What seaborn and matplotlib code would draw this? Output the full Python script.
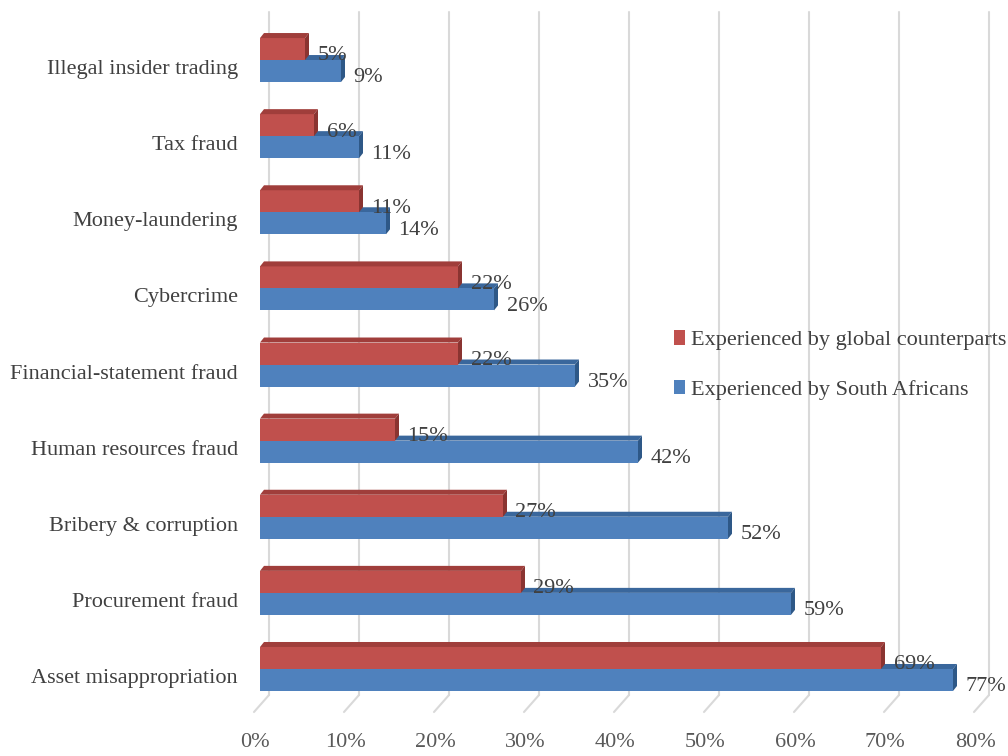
import numpy as np
import pandas as pd
import matplotlib
matplotlib.use("Agg")
import matplotlib.pyplot as plt
from matplotlib.patches import Polygon, Patch
from matplotlib.lines import Line2D
from matplotlib.transforms import ScaledTranslation
import seaborn as sns

# ---- data ----
categories = [
    "Illegal insider trading",
    "Tax fraud",
    "Money-laundering",
    "Cybercrime",
    "Financial-statement fraud",
    "Human resources fraud",
    "Bribery & corruption",
    "Procurement fraud",
    "Asset misappropriation",
]
global_pct = [5, 6, 11, 22, 22, 15, 27, 29, 69]
sa_pct = [9, 11, 14, 26, 35, 42, 52, 59, 77]
series_names = ["Experienced by global counterparts", "Experienced by South Africans"]
x_ticks = [0, 10, 20, 30, 40, 50, 60, 70, 80]
x_tick_labels = [f"{t}%" for t in x_ticks]

df = pd.DataFrame({
    "category": categories * 2,
    "value": global_pct + sa_pct,
    "series": [series_names[0]] * len(categories) + [series_names[1]] * len(categories),
})

# ---- style ----
sns.set_style("white")
plt.rcParams["font.family"] = ["Liberation Serif", "DejaVu Serif"]
TXT = "#404040"
FS = 16

front = {series_names[0]: "#C0504D", series_names[1]: "#4F81BD"}
top_face = {series_names[0]: "#A03E3B", series_names[1]: "#3A679C"}
side_face = {series_names[0]: "#8A3431", series_names[1]: "#2E5887"}

W, H, DPI = 1008, 756, 100
fig = plt.figure(figsize=(W / DPI, H / DPI), dpi=DPI)
# plot area spans px x 260..980, y 12..712 (from top)
ax = fig.add_axes([260 / W, 1 - 712 / H, 720 / W, 700 / H])

sns.barplot(
    data=df, y="category", x="value", hue="series", orient="h",
    order=categories, hue_order=series_names, palette=front,
    width=0.578, gap=0, saturation=1, legend=False, ax=ax, zorder=3,
    linewidth=0, edgecolor="none",
)

ax.set_xlim(0, 80)
ax.set_ylim(8.565, -0.631)
ax.set_xlabel("")
ax.set_ylabel("")
for s in ax.spines.values():
    s.set_visible(False)
ax.grid(False)

# ---- back-wall gridlines and floor edges ----
def px(xd, yfrac):
    xd_disp = ax.transData.transform((xd, 0))[0]
    y_disp = ax.transAxes.transform((0, yfrac))[1]
    return xd_disp, y_disp

floor_frac = 17 / 700
back_dx, front_dx = 9, -6
for t in x_ticks:
    xb, yb = px(t, floor_frac)
    _, ytop = px(t, 1.0)
    _, y0 = px(t, 0.0)
    fig.add_artist(Line2D([xb + back_dx, xb + back_dx], [yb, ytop], transform=None,
                          color="#D9D9D9", lw=1.5, zorder=0.5))
    fig.add_artist(Line2D([xb + back_dx, xb + front_dx], [yb, y0], transform=None,
                          color="#D9D9D9", lw=1.5, zorder=0.5))

# ---- depth faces for each bar ----
dx, dy = 4, 5
bars = list(ax.patches)
n = len(categories)
for i, bar in enumerate(bars[: 2 * n]):
    name = series_names[0] if i < n else series_names[1]
    x0, y0 = bar.get_x(), bar.get_y()
    x1, y1 = x0 + bar.get_width(), y0 + bar.get_height()
    (ax0, atop), (ax1, abot) = ax.transData.transform([(x0, y0), (x1, y1)])
    z = 1.2 if i < n else 1.0
    fig.add_artist(Polygon(
        [(ax0, atop), (ax1, atop), (ax1 + dx, atop + dy), (ax0 + dx, atop + dy)],
        closed=True, transform=None, facecolor=top_face[name], edgecolor="none", zorder=z))
    fig.add_artist(Polygon(
        [(ax1, atop), (ax1, abot), (ax1 + dx, abot + dy), (ax1 + dx, atop + dy)],
        closed=True, transform=None, facecolor=side_face[name], edgecolor="none", zorder=z))

# bar fronts drawn above the depth faces
ax.set_zorder(1)
ax.patch.set_alpha(0)

# value labels
all_vals = global_pct + sa_pct
for i, bar in enumerate(bars[: 2 * n]):
    xe = bar.get_x() + bar.get_width()
    yc = bar.get_y() + bar.get_height() / 2
    ax.annotate(f"{all_vals[i]}%", (xe, yc), xytext=(9, -5), textcoords="offset points",
                ha="left", va="center", fontsize=FS, color=TXT, zorder=5)

# ticks
ax.set_xticks(x_ticks)
ax.set_xticklabels(x_tick_labels)
ax.tick_params(axis="x", length=0, pad=15, labelsize=FS, labelcolor="#595959")
ax.tick_params(axis="y", length=0, pad=16, labelsize=FS, labelcolor=TXT)
for lab in ax.get_xticklabels():
    lab.set_transform(lab.get_transform() + ScaledTranslation(-0.05, 0, fig.dpi_scale_trans))
for lab in ax.get_yticklabels():
    lab.set_transform(lab.get_transform() + ScaledTranslation(0, -0.07, fig.dpi_scale_trans))

# legend
handles = [Patch(facecolor=front[s], edgecolor="none") for s in series_names]
fig.legend(handles, series_names, loc="center left",
           bbox_to_anchor=(674 / W, 1 - 365 / H), frameon=False, fontsize=FS,
           labelcolor=TXT, handlelength=0.5, handleheight=0.6, handletextpad=0.25,
           labelspacing=1.32, borderpad=0, borderaxespad=0)

fig.savefig("out.png", dpi=DPI)
